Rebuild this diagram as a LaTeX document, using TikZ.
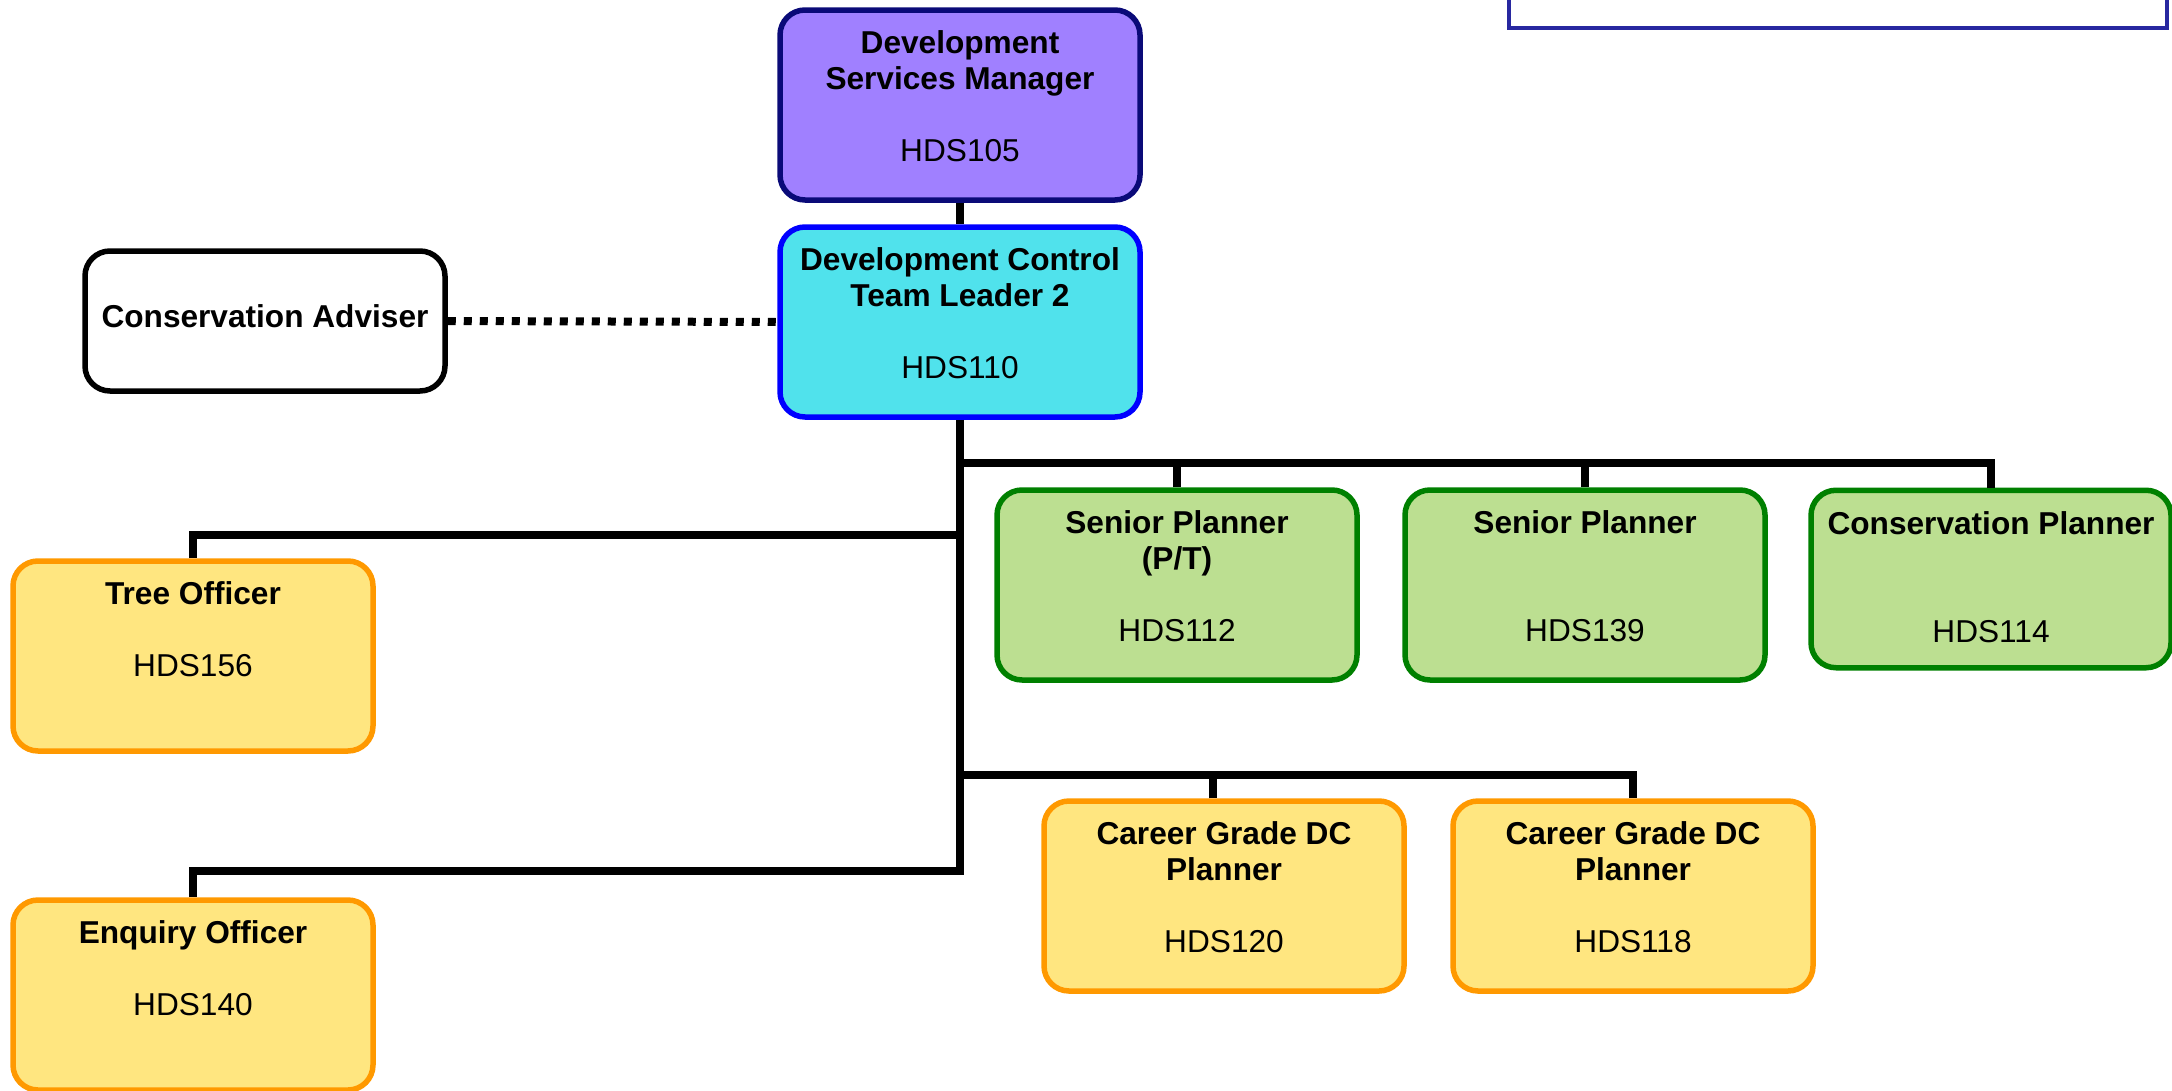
\documentclass[tikz,border=0pt]{standalone}
\usepackage{fontspec}
\setmainfont{Liberation Sans}
\definecolor{mgrfill}{RGB}{160,128,255}
\definecolor{mgrline}{RGB}{10,10,120}
\definecolor{tlfill}{RGB}{80,226,236}
\definecolor{tlline}{RGB}{0,0,255}
\definecolor{spfill}{RGB}{188,223,145}
\definecolor{spline}{RGB}{0,128,0}
\definecolor{offill}{RGB}{255,230,128}
\definecolor{ofline}{RGB}{255,153,0}
\definecolor{noteline}{RGB}{40,40,160}
\begin{document}
\begin{tikzpicture}[x=0.1mm,y=-0.1mm,
  post/.style={rectangle, rounded corners=2.5mm, draw, line width=0.55mm, minimum width=36mm, minimum height=19mm, inner sep=0pt},
  tx/.style={anchor=north, inner sep=0pt, align=center, font=\fontsize{9}{10.24}\selectfont, execute at begin node=\strut},
  link/.style={line width=0.8mm},
  dotlink/.style={line width=0.8mm, dash pattern=on 0.8mm off 0.8mm}]
\useasboundingbox (0,0) rectangle (2172,1090);
\clip (0,0) rectangle (2172,1090);
\node[draw=noteline, line width=0.35mm, minimum width=65.8mm, minimum height=10mm, inner sep=0pt] (note) at (1838,-22){};
\node[post, draw=mgrline, fill=mgrfill] (dsm) at (960,105){};
\node[post, draw=tlline, fill=tlfill] (dctl) at (960,322){};
\node[post, fill=white, minimum height=14mm] (cadv) at (265,321){};
\node[post, draw=ofline, fill=offill] (tree) at (193,656){};
\node[post, draw=ofline, fill=offill] (enq) at (193,995){};
\node[post, draw=spline, fill=spfill] (sp1) at (1177,585){};
\node[post, draw=spline, fill=spfill] (sp2) at (1585,585){};
\node[post, draw=spline, fill=spfill, minimum height=17.75mm] (cp) at (1991,579){};
\node[post, draw=ofline, fill=offill] (cg1) at (1224,896){};
\node[post, draw=ofline, fill=offill] (cg2) at (1633,896){};
\node[tx] (dsmtext) at ([yshift=-2.3mm]dsm.north){\textbf{Development}\\\textbf{Services Manager}\\[3.6mm]HDS105};
\node[tx] (dctltext) at ([yshift=-2.3mm]dctl.north){\textbf{Development Control}\\\textbf{Team Leader 2}\\[3.6mm]HDS110};
\node[tx, anchor=base] (cadvtext) at (265,327){\textbf{Conservation Adviser}};
\node[tx] (treetext) at ([yshift=-2.3mm]tree.north){\textbf{Tree Officer}\\[3.6mm]HDS156};
\node[tx] (enqtext) at ([yshift=-2.3mm]enq.north){\textbf{Enquiry Officer}\\[3.6mm]HDS140};
\node[tx] (sp1text) at ([yshift=-2.3mm]sp1.north){\textbf{Senior Planner}\\\textbf{(P/T)}\\[3.6mm]HDS112};
\node[tx] (sp2text) at ([yshift=-2.3mm]sp2.north){\textbf{Senior Planner}\\[7.2mm]HDS139};
\node[tx] (cptext) at ([yshift=-2.3mm]cp.north){\textbf{Conservation Planner}\\[7.2mm]HDS114};
\node[tx] (cg1text) at ([yshift=-2.3mm]cg1.north){\textbf{Career Grade DC}\\\textbf{Planner}\\[3.6mm]HDS120};
\node[tx] (cg2text) at ([yshift=-2.3mm]cg2.north){\textbf{Career Grade DC}\\\textbf{Planner}\\[3.6mm]HDS118};
\coordinate (bus1) at (960,463);
\coordinate (bus2) at (960,535);
\coordinate (bus3) at (960,775);
\coordinate (bus4) at (960,871);
\draw[link](dsm) -- (dctl);
\draw[link](dctl.south) -- (bus4) -| (enq.north);
\draw[link](bus2) -| (tree.north);
\draw[link](bus1) -| (cp.north);
\draw[link](sp1.north) -- (sp1.north |- bus1);
\draw[link](sp2.north) -- (sp2.north |- bus1);
\draw[link](bus3) -| (cg2.north);
\draw[link]([xshift=-1.1mm]cg1.north) -- ([xshift=-1.1mm]cg1.north |- bus3);
\draw[dotlink](cadv.east) -- (dctl.west);
\end{tikzpicture}
\end{document}
